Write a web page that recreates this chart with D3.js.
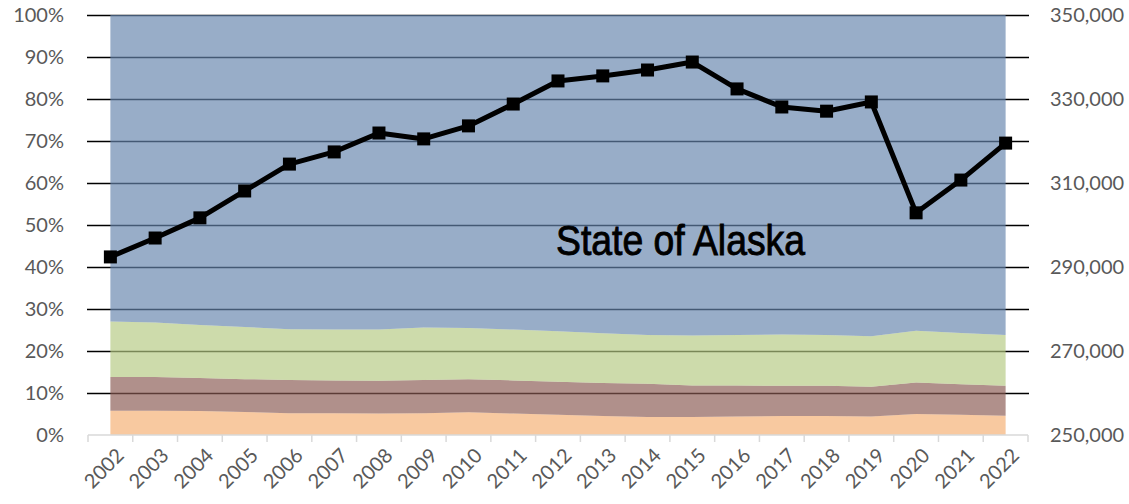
<!DOCTYPE html>
<html>
<head>
<meta charset="utf-8">
<script src="https://cdn.jsdelivr.net/npm/d3@7"></script>
<style>
  body { margin: 0; background: #fff; }
  text { font-family: Lato, "Open Sans", sans-serif; }
</style>
</head>
<body>
<div id="chart"></div>
<script>
// data
var years = ["2002","2003","2004","2005","2006","2007","2008","2009","2010","2011","2012",
             "2013","2014","2015","2016","2017","2018","2019","2020","2021","2022"];
var peach = [5.8,5.8,5.7,5.5,5.2,5.2,5.1,5.2,5.4,5.1,4.8,4.5,4.3,4.3,4.4,4.5,4.5,4.4,5.0,4.8,4.6];
var brown = [8.0,8.0,7.9,7.8,7.9,7.8,7.8,7.9,7.9,7.9,7.9,7.9,7.9,7.5,7.4,7.2,7.2,7.1,7.5,7.3,7.1];
var green = [13.2,13.0,12.6,12.4,12.1,12.1,12.2,12.5,12.2,12.1,12.0,11.8,11.6,11.9,12.0,12.2,12.1,12.0,12.3,12.2,12.1];
var blue  = [73.0,73.2,73.8,74.3,74.8,74.9,74.9,74.4,74.5,74.9,75.3,75.8,76.2,76.3,76.2,76.1,76.2,76.5,75.2,75.7,76.2];
var total = [292400,296900,301700,308100,314500,317400,321900,320500,323600,328800,334300,
             335500,336900,338800,332400,328100,327100,329300,302900,310700,319500];
var leftTicks = [0,0.1,0.2,0.3,0.4,0.5,0.6,0.7,0.8,0.9,1];
var rightTicks = [250000,270000,290000,310000,330000,350000];

var keys = ["peach","brown","green","blue"];
// areas are see-through, so the gridlines show darker inside them
var colors = {peach: "#f5af71", brown: "#895a52", green: "#b4c982", blue: "#6685ad"};

var width = 1129, height = 504;
var margin = {top: 15, right: 101, bottom: 69, left: 88};

var svg = d3.select("#chart").append("svg")
    .attr("width", width)
    .attr("height", height);

var rows = years.map(function(y, i) {
  return {year: y, peach: peach[i], brown: brown[i], green: green[i], blue: blue[i]};
});

var x = d3.scaleBand()
    .domain(years)
    .range([margin.left, width - margin.right]);

var y = d3.scaleLinear()
    .domain([0, 1])
    .range([height - margin.bottom, margin.top]);

var y2 = d3.scaleLinear()
    .domain([250000, 350000])
    .range([height - margin.bottom, margin.top]);

var cx = function(d) { return x(d) + x.bandwidth() / 2; };

// gridlines
svg.append("g")
  .selectAll("line")
  .data(leftTicks.slice(1))
  .enter().append("line")
    .attr("x1", margin.left - 1)
    .attr("x2", width - margin.right + 1)
    .attr("y1", function(d) { return Math.round(y(d)) + 0.5; })
    .attr("y2", function(d) { return Math.round(y(d)) + 0.5; })
    .attr("stroke", "#000")
    .attr("stroke-width", 1.6);

// stacked areas
var series = d3.stack().keys(keys).offset(d3.stackOffsetExpand)(rows);

var area = d3.area()
    .x(function(d) { return cx(d.data.year); })
    .y0(function(d) { return y(d[0]); })
    .y1(function(d) { return y(d[1]); });

svg.append("g")
  .selectAll("path")
  .data(series)
  .enter().append("path")
    .attr("fill", function(d) { return colors[d.key]; })
    .attr("fill-opacity", 0.67)
    .attr("d", area);

// x axis
var xAxis = svg.append("g")
    .attr("transform", "translate(0," + (height - margin.bottom) + ")");
xAxis.append("line")
    .attr("x1", margin.left).attr("x2", width - margin.right)
    .attr("stroke", "#d9d9d9").attr("stroke-width", 1.5);
xAxis.selectAll(".tk")
  .data(years.concat(["end"]))
  .enter().append("line")
    .attr("x1", function(d, i) { return i < years.length ? x(d) : width - margin.right; })
    .attr("x2", function(d, i) { return i < years.length ? x(d) : width - margin.right; })
    .attr("y1", 0).attr("y2", 7)
    .attr("stroke", "#d9d9d9").attr("stroke-width", 1.5);
xAxis.selectAll("text")
  .data(years)
  .enter().append("text")
    .attr("transform", function(d) { return "translate(" + (cx(d) + 5) + ",12) rotate(-45)"; })
    .attr("text-anchor", "end")
    .attr("dy", "0.7em")
    .attr("fill", "#595959")
    .style("font-size", "20px")
    .text(function(d) { return d; });

// left axis labels
svg.append("g")
  .selectAll("text")
  .data(leftTicks)
  .enter().append("text")
    .attr("x", 64)
    .attr("y", function(d) { return y(d); })
    .attr("dy", "0.35em")
    .attr("text-anchor", "end")
    .attr("fill", "#595959")
    .style("font-size", "20px")
    .text(function(d) { return d3.format(".0%")(d); });

// right axis labels
svg.append("g")
  .selectAll("text")
  .data(rightTicks)
  .enter().append("text")
    .attr("x", 1050)
    .attr("y", function(d) { return y2(d); })
    .attr("dy", "0.35em")
    .attr("text-anchor", "start")
    .attr("fill", "#595959")
    .style("font-size", "20px")
    .text(function(d) { return d3.format(",")(d); });

// total line
var line = d3.line()
    .x(function(d, i) { return cx(years[i]); })
    .y(function(d) { return y2(d); });

svg.append("path")
    .datum(total)
    .attr("fill", "none")
    .attr("stroke", "#000")
    .attr("stroke-width", 5)
    .attr("stroke-linejoin", "round")
    .attr("d", line);

svg.append("g")
  .selectAll("rect")
  .data(total)
  .enter().append("rect")
    .attr("x", function(d, i) { return cx(years[i]) - 6.5; })
    .attr("y", function(d) { return y2(d) - 6.5; })
    .attr("width", 13)
    .attr("height", 13)
    .attr("fill", "#000");

// title inside plot
svg.append("text")
    .attr("x", 556)
    .attr("y", 255)
    .attr("fill", "#000")
    .attr("stroke", "#000")
    .attr("stroke-width", 0.9)
    .attr("textLength", 249)
    .attr("lengthAdjust", "spacingAndGlyphs")
    .style("font-family", "'Liberation Sans', Arial, sans-serif")
    .style("font-size", "42px")
    .text("State of Alaska");
</script>
</body>
</html>
